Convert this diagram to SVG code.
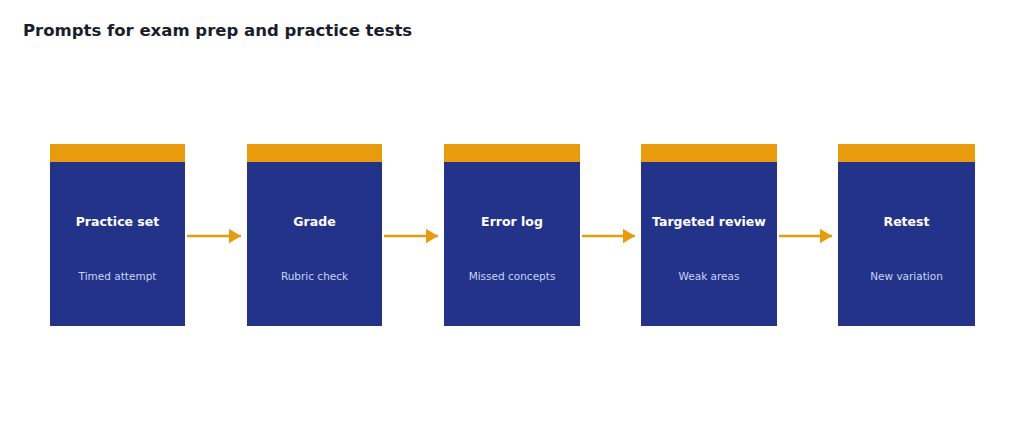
<svg xmlns="http://www.w3.org/2000/svg" width="1024" height="441" viewBox="0 0 1024 441">
<defs>
<style>
.top{fill:#E99B0E}
.body{fill:#23338A}
.t{font-family:"DejaVu Sans",sans-serif;font-weight:bold;font-size:12.5px;fill:#fff;text-anchor:middle}
.s{font-family:"DejaVu Sans",sans-serif;font-size:10.5px;fill:#C9D3F5;text-anchor:middle}
.c{stroke:#E99B0E;stroke-width:2.5;fill:none;marker-end:url(#ah)}
</style>
<marker id="ah" markerWidth="6" markerHeight="6" refX="5" refY="3" orient="auto" markerUnits="strokeWidth"><path d="M0,0 L5,3 L0,6 Z" fill="#E99B0E"/></marker>
</defs>
<rect width="1024" height="441" fill="#fff"/>
<text x="23" y="36" font-family="DejaVu Sans,sans-serif" font-weight="bold" font-size="16.5" fill="#1a1d2b">Prompts for exam prep and practice tests</text>
<g id="n1"><rect class="body" x="50" y="144" width="135" height="182"/><rect class="top" x="50" y="144" width="135" height="18"/><text class="t" x="117.5" y="226">Practice set</text><text class="s" x="117.5" y="280">Timed attempt</text></g>
<g id="n2"><rect class="body" x="247" y="144" width="135" height="182"/><rect class="top" x="247" y="144" width="135" height="18"/><text class="t" x="314.5" y="226">Grade</text><text class="s" x="314.5" y="280">Rubric check</text></g>
<g id="n3"><rect class="body" x="444" y="144" width="136" height="182"/><rect class="top" x="444" y="144" width="136" height="18"/><text class="t" x="512" y="226">Error log</text><text class="s" x="512" y="280">Missed concepts</text></g>
<g id="n4"><rect class="body" x="641" y="144" width="136" height="182"/><rect class="top" x="641" y="144" width="136" height="18"/><text class="t" x="709" y="226">Targeted review</text><text class="s" x="709" y="280">Weak areas</text></g>
<g id="n5"><rect class="body" x="838" y="144" width="137" height="182"/><rect class="top" x="838" y="144" width="137" height="18"/><text class="t" x="906.5" y="226">Retest</text><text class="s" x="906.5" y="280">New variation</text></g>
<g id="connectors">
<line class="c" x1="187" y1="236" x2="241" y2="236"/>
<line class="c" x1="384" y1="236" x2="438" y2="236"/>
<line class="c" x1="582" y1="236" x2="635" y2="236"/>
<line class="c" x1="779" y1="236" x2="832" y2="236"/>
</g>
</svg>
